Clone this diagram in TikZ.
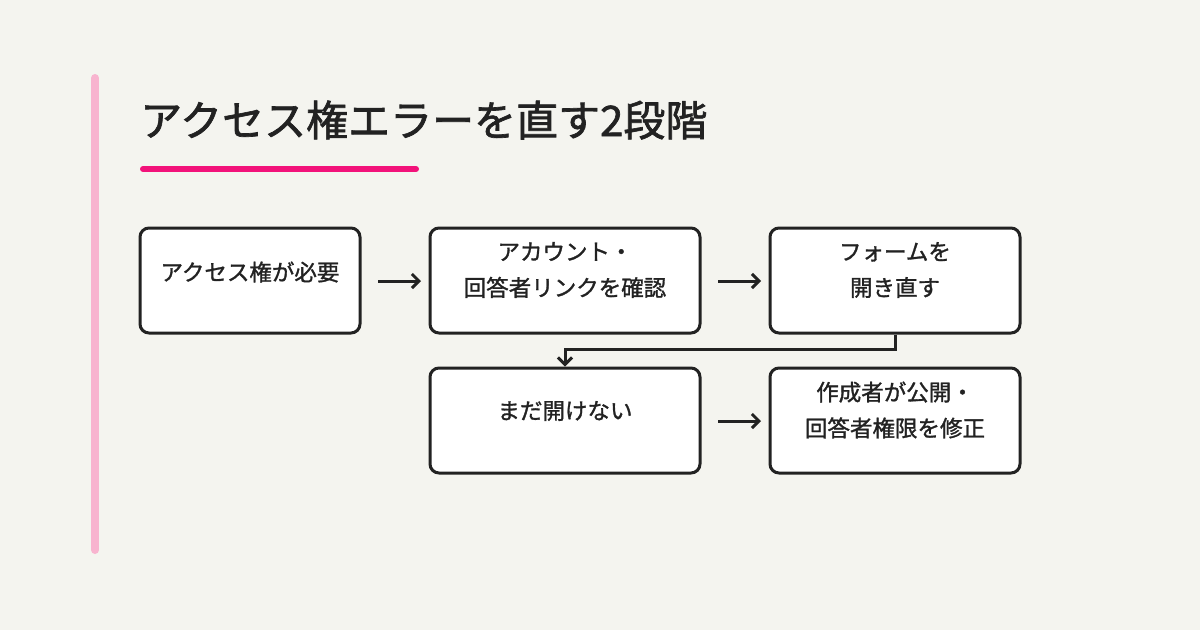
\documentclass[tikz,border=0pt]{standalone}
\usepackage{fontspec}
\setmainfont{Noto Sans CJK JP}
\newfontfamily\med[FakeBold=1.3]{Noto Sans CJK JP}
\newfontfamily\ttl[FakeBold=1.6]{Noto Sans CJK JP}
\usetikzlibrary{arrows.meta}
\definecolor{bg}{HTML}{F4F4EF}
\definecolor{bar}{HTML}{F8B4CF}
\definecolor{acc}{HTML}{F2127A}
\definecolor{ink}{HTML}{222222}
\begin{document}
\begin{tikzpicture}[x=1pt,y=-1pt,
  box/.style={draw=ink,line width=3pt,rounded corners=9pt,fill=white,minimum height=105pt,inner sep=0pt},
  lbl/.style={font=\med\fontsize{22.5}{36}\selectfont,text=ink,align=center},
  arr/.style={draw=ink,line width=3pt,-{Straight Barb[length=7pt,width=14pt]}}]
\useasboundingbox (0,0) rectangle (1200,630);
\fill[bg] (0,0) rectangle (1200,630);
\draw[bar,line width=8pt,line cap=round] (95,78) -- (95,550);
\node[anchor=west,font=\ttl\fontsize{42}{46}\selectfont,text=ink,inner sep=0pt] (title) at (140,120) {アクセス権エラーを直す2段階};
\draw[acc,line width=6pt,line cap=round] (143,169) -- (416,169);
\node[box,minimum width=220pt] (b1) at (250,280.5) {};
\node[box,minimum width=270pt] (b2) at (565,280.5) {};
\node[box,minimum width=250pt] (b3) at (895,280.5) {};
\node[box,minimum width=270pt] (b4) at (565,420.5) {};
\node[box,minimum width=250pt] (b5) at (895,420.5) {};
\node[lbl] (t1) at (250,272) {アクセス権が必要};
\node[lbl] (t2) at (565,270) {アカウント・\\回答者リンクを確認};
\node[lbl] (t3) at (895,270) {フォームを\\開き直す};
\node[lbl] (t4) at (565,411) {まだ開けない};
\node[lbl] (t5) at (895,410) {作成者が公開・\\回答者権限を修正};
\coordinate (a1s) at (378,281); \coordinate (a1e) at (421,281);
\coordinate (a2s) at (718,281); \coordinate (a2e) at (761,281);
\coordinate (a3s) at (718,421); \coordinate (a3e) at (761,421);
\draw[arr] (a1s) -- (a1e);
\draw[arr] (a2s) -- (a2e);
\draw[arr] (a3s) -- (a3e);
\draw[arr] (b3.south) -- (895,349) -- (565,349) -- (b4.north);
\end{tikzpicture}
\end{document}
